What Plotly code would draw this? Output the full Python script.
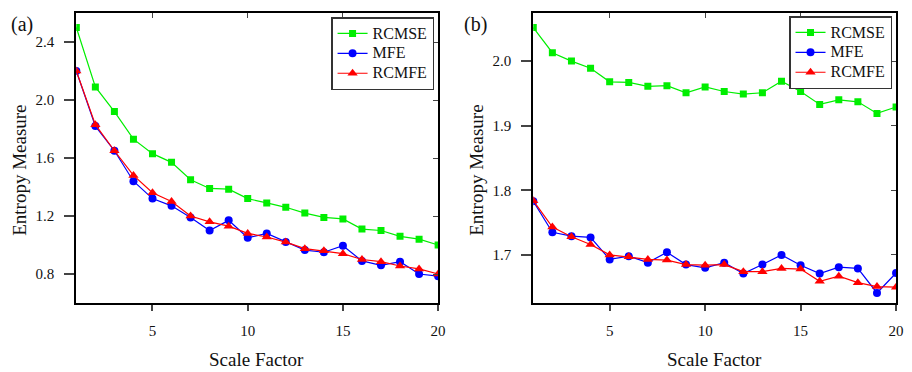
import plotly.graph_objects as go

scale = list(range(1, 21))

a_rcmse = [2.50, 2.09, 1.92, 1.73, 1.63, 1.57, 1.45, 1.39, 1.385, 1.32,
           1.29, 1.26, 1.22, 1.19, 1.18, 1.11, 1.10, 1.06, 1.04, 1.00]
a_mfe = [2.20, 1.82, 1.65, 1.44, 1.32, 1.27, 1.19, 1.10, 1.17, 1.05,
         1.08, 1.02, 0.965, 0.95, 0.995, 0.89, 0.86, 0.885, 0.80, 0.785]
a_rcmfe = [2.20, 1.83, 1.65, 1.48, 1.36, 1.30, 1.20, 1.16, 1.13, 1.08,
           1.055, 1.02, 0.975, 0.96, 0.94, 0.90, 0.885, 0.855, 0.835, 0.80]

b_rcmse = [2.052, 2.013, 2.000, 1.989, 1.968, 1.967, 1.961, 1.962, 1.951, 1.960,
           1.953, 1.949, 1.951, 1.969, 1.953, 1.933, 1.940, 1.937, 1.919, 1.929]
b_mfe = [1.783, 1.735, 1.729, 1.727, 1.693, 1.698, 1.688, 1.704, 1.685, 1.680,
         1.688, 1.671, 1.685, 1.700, 1.684, 1.671, 1.681, 1.679, 1.641, 1.672]
b_rcmfe = [1.784, 1.743, 1.728, 1.716, 1.700, 1.697, 1.693, 1.692, 1.685, 1.684,
           1.685, 1.674, 1.674, 1.679, 1.678, 1.659, 1.667, 1.657, 1.651, 1.650]

series_names = ["RCMSE", "MFE", "RCMFE"]
a_yticks = [0.8, 1.2, 1.6, 2.0, 2.4]
b_yticks = [1.7, 1.8, 1.9, 2.0]
xticks = [5, 10, 15, 20]

W, H = 912, 372
FONT = "Liberation Serif"
GREEN, BLUE, RED = "#00EE00", "#0000FF", "#FF0000"

fig = go.Figure()

def legname(s):
    return "<span style='font-size:16px'>%s</span>" % s

def add_series(xa, ya, leg, rcmse, mfe, rcmfe):
    fig.add_trace(go.Scatter(x=scale, y=rcmse, name=legname(series_names[0]), mode="lines+markers",
                             line=dict(color=GREEN, width=1.2),
                             marker=dict(symbol="square", size=7, color=GREEN),
                             xaxis=xa, yaxis=ya, legend=leg))
    fig.add_trace(go.Scatter(x=scale, y=mfe, name=legname(series_names[1]), mode="lines+markers",
                             line=dict(color=BLUE, width=1.2),
                             marker=dict(symbol="circle", size=8, color=BLUE),
                             xaxis=xa, yaxis=ya, legend=leg))
    fig.add_trace(go.Scatter(x=scale, y=rcmfe, name=legname(series_names[2]), mode="lines+markers",
                             line=dict(color=RED, width=1.2),
                             marker=dict(symbol="triangle-up", size=9, color=RED),
                             xaxis=xa, yaxis=ya, legend=leg))

add_series("x", "y", "legend", a_rcmse, a_mfe, a_rcmfe)
add_series("x2", "y2", "legend2", b_rcmse, b_mfe, b_rcmfe)

def px_x(p):
    return p / W

def px_y(p):
    return (H - p) / H

ydom = [px_y(303), px_y(13)]
xdomA = [px_x(77), px_x(442)]
xdomB = [px_x(538), px_x(904)]

tickfont = dict(family=FONT, size=15, color="#111")
common_x = dict(range=[1, 20], tickvals=xticks, ticks="outside", ticklen=6, tickwidth=1.5,
                ticklabelstandoff=7,
                showline=True, linewidth=2, linecolor="black", mirror=True,
                showgrid=False, zeroline=False, tickfont=tickfont)
common_y = dict(ticks="outside", ticklen=10, tickwidth=1.5, ticklabelstandoff=7,
                showline=True, linewidth=2, linecolor="black", mirror=True,
                showgrid=False, zeroline=False, tickfont=tickfont)

overlay = dict(ticklen=5, tickwidth=1.2, ticks="inside", showticklabels=False,
               showgrid=False, zeroline=False, showline=False)

legfont = dict(family=FONT, size=13, color="#111")

fig.update_layout(
    width=W, height=H,
    margin=dict(l=0, r=0, t=0, b=0),
    paper_bgcolor="white", plot_bgcolor="white",
    font=dict(family=FONT, color="#111"),
    xaxis=dict(domain=xdomA, anchor="y", **common_x),
    yaxis=dict(domain=ydom, anchor="x", range=[0.6, 2.6], tickvals=a_yticks,
               tickformat=".1f", **common_y),
    xaxis2=dict(domain=xdomB, anchor="y2", **common_x),
    yaxis2=dict(domain=ydom, anchor="x2", range=[1.6255, 2.0745], tickvals=b_yticks,
                tickformat=".1f", **common_y),
    xaxis3=dict(overlaying="x", side="top", anchor="y3", range=[1, 20], tickvals=xticks, **overlay),
    yaxis3=dict(overlaying="y", side="right", anchor="x3", range=[0.6, 2.6], tickvals=a_yticks, **overlay),
    xaxis4=dict(overlaying="x2", side="top", anchor="y4", range=[1, 20], tickvals=xticks, **overlay),
    yaxis4=dict(overlaying="y2", side="right", anchor="x4", range=[1.6255, 2.0745], tickvals=b_yticks, **overlay),
    legend=dict(x=px_x(334), y=px_y(17), xanchor="left", yanchor="top",
                bgcolor="white", bordercolor="#333", borderwidth=1.5,
                font=legfont, tracegroupgap=0, itemsizing="trace"),
    legend2=dict(x=px_x(796), y=px_y(16), xanchor="left", yanchor="top",
                 bgcolor="white", bordercolor="#333", borderwidth=1.5,
                 font=legfont, tracegroupgap=0, itemsizing="trace"),
    showlegend=True,
)

fig.add_trace(go.Scatter(x=[1], y=[0.6], xaxis="x3", yaxis="y3", mode="markers",
                         marker=dict(opacity=0), showlegend=False, hoverinfo="skip"))
fig.add_trace(go.Scatter(x=[1], y=[1.6255], xaxis="x4", yaxis="y4", mode="markers",
                         marker=dict(opacity=0), showlegend=False, hoverinfo="skip"))

annfont = dict(family=FONT, size=19, color="#111")
anns = [
    dict(text="Scale Factor", x=px_x(259), y=px_y(359)),
    dict(text="Scale Factor", x=px_x(721), y=px_y(359)),
    dict(text="Entropy Measure", x=px_x(19), y=px_y(170), textangle=-90),
    dict(text="Entropy Measure", x=px_x(480), y=px_y(170), textangle=-90),
    dict(text="(a)", x=px_x(22), y=px_y(24), font=dict(family=FONT, size=20, color="#111")),
    dict(text="(b)", x=px_x(480), y=px_y(24), font=dict(family=FONT, size=20, color="#111")),
]
for a in anns:
    f = a.pop("font", annfont)
    fig.add_annotation(xref="paper", yref="paper", showarrow=False,
                       xanchor="center", yanchor="middle", font=f, **a)

fig.write_html("out.html")
